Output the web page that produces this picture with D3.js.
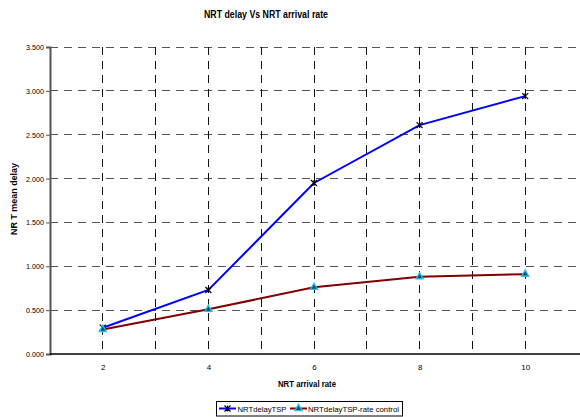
<!DOCTYPE html>
<html><head><meta charset="utf-8">
<script src="https://cdn.jsdelivr.net/npm/d3@7"></script>
<style>body{margin:0;background:#fff}svg{display:block;font-family:"Liberation Sans",Arial,sans-serif}</style>
</head><body>
<script>
const categories = [2, 4, 6, 8, 10];
const delayTSP = [0.30, 0.73, 1.95, 2.61, 2.94];
const delayRateControl = [0.28, 0.51, 0.76, 0.88, 0.91];
const yTicks = [0, 0.5, 1.0, 1.5, 2.0, 2.5, 3.0, 3.5];
const seriesNames = ["NRTdelayTSP", "NRTdelayTSP-rate control"];

const W = 580, H = 417;
const svg = d3.select("body").append("svg").attr("width", W).attr("height", H);
const L = 50, R = 578, T = 47, B = 354;

const x = d3.scaleLinear().domain([1, 11]).range([L, R]);
const y = d3.scaleLinear().domain([0, 3.5]).range([B, T]);

svg.append("g").selectAll("line").data(yTicks.filter(d => d > 0)).join("line")
  .attr("x1", L).attr("x2", 580).attr("y1", d => y(d)).attr("y2", d => y(d))
  .attr("stroke", "#555").attr("stroke-width", 1).attr("stroke-dasharray", "8,6")
  .attr("shape-rendering", "crispEdges");
const vlines = d3.range(2, 11);
svg.append("g").selectAll("line").data(vlines).join("line")
  .attr("x1", d => x(d)).attr("x2", d => x(d)).attr("y1", T).attr("y2", B)
  .attr("stroke", "#111").attr("stroke-width", 1).attr("stroke-dasharray", "8,6")
  .attr("shape-rendering", "crispEdges");

const yAxis = d3.axisLeft(y).tickValues(yTicks).tickFormat(d3.format(".3f")).tickSize(4).tickPadding(2);
const gy = svg.append("g").attr("transform", `translate(${L},0)`).call(yAxis);
gy.select(".domain").attr("stroke", "#555").attr("stroke-width", 2);
gy.selectAll(".tick line").attr("stroke", "#555");
gy.selectAll("text").attr("font-size", 8).attr("fill", "#000")
  .attr("textLength", 18).attr("lengthAdjust", "spacingAndGlyphs");

const xAxis = d3.axisBottom(x).tickValues(categories).tickSize(0).tickPadding(10);
const gx = svg.append("g").attr("transform", `translate(0,${B})`).call(xAxis);
gx.select(".domain").remove();
gx.selectAll("text").attr("font-size", 8).attr("fill", "#000");
svg.append("line").attr("x1", L).attr("x2", 580).attr("y1", B).attr("y2", B)
  .attr("stroke", "#000").attr("stroke-width", 1.5);

const line = d3.line().x((d, i) => x(categories[i])).y(d => y(d));
svg.append("path").datum(delayTSP).attr("d", line).attr("fill", "none").attr("stroke", "#0000ff").attr("stroke-width", 2);
svg.append("path").datum(delayRateControl).attr("d", line).attr("fill", "none").attr("stroke", "#800000").attr("stroke-width", 2);

function star(g, cx, cy) {
  const s = 3;
  g.append("path").attr("d", `M${cx-s},${cy-s}L${cx+s},${cy+s}M${cx-s},${cy+s}L${cx+s},${cy-s}M${cx},${cy-s}L${cx},${cy+s}`)
    .attr("stroke", "#000").attr("stroke-width", 1.2).attr("fill", "none");
}
function tri(g, cx, cy) {
  g.append("path").attr("d", d3.symbol(d3.symbolTriangle, 22)())
    .attr("transform", `translate(${cx},${cy})`)
    .attr("fill", "#0a4a7a").attr("stroke", "#22c0e8").attr("stroke-width", 1.3);
}
const mg = svg.append("g");
delayTSP.forEach((v, i) => star(mg, x(categories[i]), y(v)));
delayRateControl.forEach((v, i) => tri(mg, x(categories[i]), y(v)));

function fit(t, len) { return t.attr("textLength", len).attr("lengthAdjust", "spacingAndGlyphs"); }

fit(svg.append("text").attr("x", 266).attr("y", 18).attr("text-anchor", "middle")
  .attr("font-size", 10).attr("font-weight", "bold").text("NRT delay Vs NRT arrival rate"), 124);
fit(svg.append("text").attr("x", 307).attr("y", 387).attr("text-anchor", "middle")
  .attr("font-size", 8.5).attr("font-weight", "bold").text("NRT arrival rate"), 58);
fit(svg.append("text").attr("transform", "translate(17,199) rotate(-90)").attr("text-anchor", "middle")
  .attr("font-size", 8.5).attr("font-weight", "bold").text("NR T mean delay"), 72);

const lg = svg.append("g");
lg.append("rect").attr("x", 216.5).attr("y", 401.5).attr("width", 186).attr("height", 14.5)
  .attr("fill", "#fff").attr("stroke", "#000").attr("stroke-width", 1);
const ly = 408.5;
lg.append("line").attr("x1", 219).attr("x2", 236).attr("y1", ly).attr("y2", ly).attr("stroke", "#0000ff").attr("stroke-width", 2);
star(lg, 227.5, ly);
fit(lg.append("text").attr("x", 237.5).attr("y", ly + 3).attr("font-size", 8).text(seriesNames[0]), 49);
lg.append("line").attr("x1", 290).attr("x2", 307).attr("y1", ly).attr("y2", ly).attr("stroke", "#800000").attr("stroke-width", 2);
tri(lg, 298.5, ly);
fit(lg.append("text").attr("x", 308).attr("y", ly + 3).attr("font-size", 8).text(seriesNames[1]), 91);
</script>
</body></html>
